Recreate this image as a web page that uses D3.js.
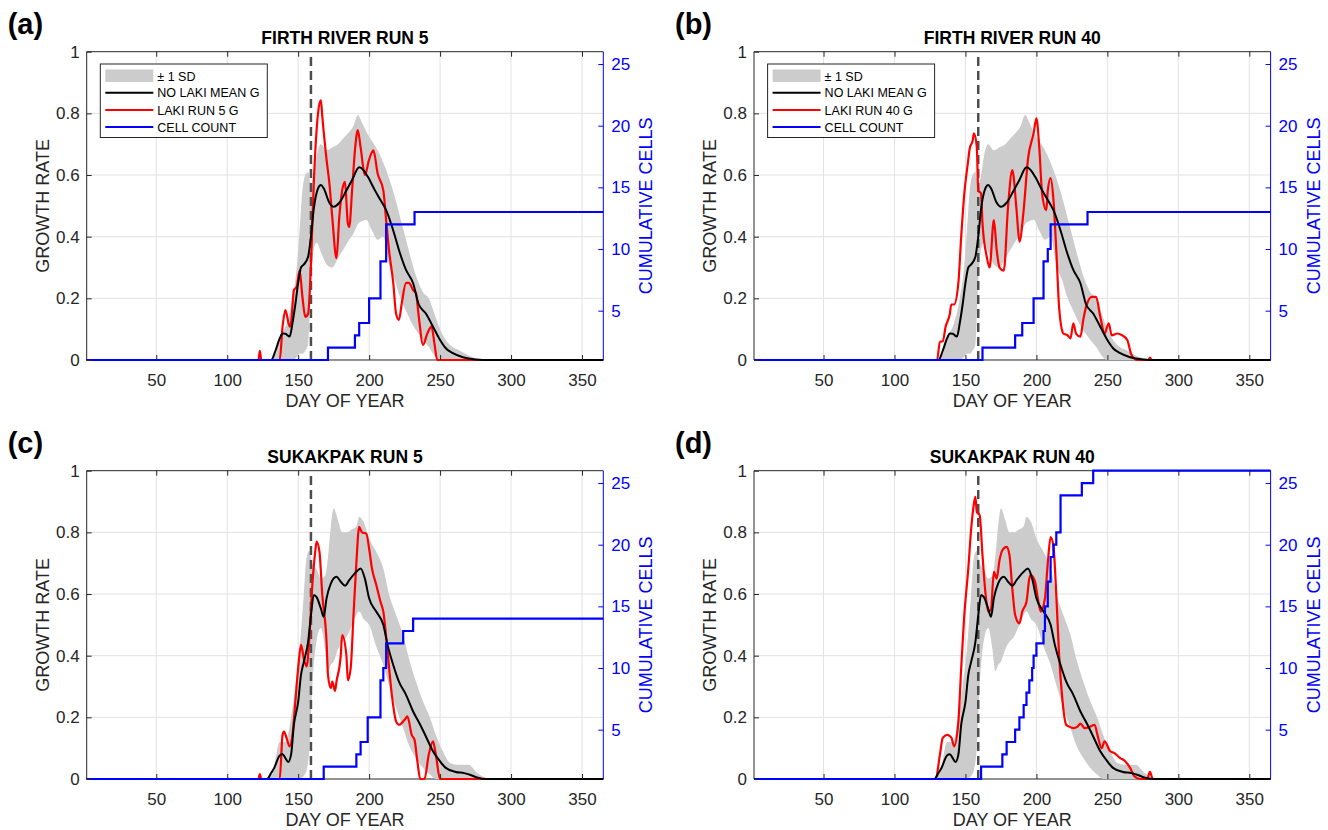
<!DOCTYPE html>
<html>
<head>
<meta charset="utf-8">
<script src="https://cdn.jsdelivr.net/npm/d3@7"></script>
<style>
    body { margin: 0; background: #fff; }
    svg text { font-family: "Liberation Sans", Arial, Helvetica, sans-serif; }
</style>
</head>
<body>
<svg id="fig" width="1328" height="830"></svg>
<script>
// Axes limits and ticks
const xDomain = [1, 365];
const gDomain = [0, 1];
const cellDomain = [1, 26];
const xTicks = [50, 100, 150, 200, 250, 300, 350];
const gTicks = [0, 0.2, 0.4, 0.6, 0.8, 1];
const cellTicks = [5, 10, 15, 20, 25];
const eruptionDay = 159;

// Firth River - no Laki ensemble mean growth rate
const firthMeanDay = [1, 124, 131, 134, 137, 139, 141, 144, 146, 148, 150, 152, 154, 157, 159, 161, 164, 166, 168, 172, 175, 179, 184, 188, 193, 196, 199, 204, 208, 212, 217, 221, 226, 231, 235, 240, 245, 250, 254, 259, 266, 275, 285, 365];
const firthMeanG = [0, 0, 0, 0.03, 0.07, 0.086, 0.085, 0.076, 0.12, 0.18, 0.25, 0.30, 0.31, 0.335, 0.40, 0.49, 0.557, 0.568, 0.557, 0.51, 0.497, 0.51, 0.55, 0.584, 0.625, 0.616, 0.595, 0.551, 0.519, 0.486, 0.42, 0.357, 0.292, 0.249, 0.18, 0.151, 0.108, 0.065, 0.038, 0.022, 0.009, 0.002, 0, 0];

// Firth River - +/- 1 SD envelope
const firthBandDay = [131, 134, 138, 142, 146, 149, 151, 153, 155, 157, 159, 161, 163, 166, 170, 174, 178, 182, 186, 189, 192, 195, 198, 202, 206, 210, 214, 218, 222, 226, 230, 234, 238, 242, 246, 250, 254, 258, 262, 266, 270, 276, 282];
const firthBandHi = [0, 0.02, 0.08, 0.12, 0.2, 0.3, 0.42, 0.55, 0.6, 0.61, 0.57, 0.6, 0.66, 0.7, 0.68, 0.69, 0.70, 0.72, 0.74, 0.76, 0.795, 0.77, 0.74, 0.71, 0.68, 0.64, 0.59, 0.53, 0.46, 0.39, 0.32, 0.26, 0.22, 0.2, 0.15, 0.1, 0.065, 0.045, 0.035, 0.025, 0.015, 0.005, 0];
const firthBandLo = [0, 0, 0, 0, 0, 0.01, 0.02, 0.02, 0.03, 0.05, 0.25, 0.36, 0.38, 0.35, 0.31, 0.30, 0.33, 0.36, 0.39, 0.41, 0.44, 0.45, 0.455, 0.42, 0.39, 0.40, 0.31, 0.26, 0.2, 0.16, 0.12, 0.09, 0.065, 0.043, 0.015, 0, 0, 0, 0, 0, 0, 0, 0];

// Firth River - Laki run 5
const firthRun5Day = [1, 122, 123, 124, 137, 139, 141, 144, 145, 147, 149, 151, 153, 155, 157, 159, 161, 164, 166, 167, 170, 172, 174, 177, 179, 181, 183, 185, 186, 188, 190, 192, 194, 197, 200, 203, 206, 210, 212, 214, 217, 219, 221, 223, 226, 228, 231, 233, 235, 238, 241, 244, 246, 248, 365];
const firthRun5G = [0, 0, 0.03, 0, 0, 0.108, 0.162, 0.108, 0.12, 0.227, 0.238, 0.29, 0.205, 0.14, 0.15, 0.31, 0.573, 0.8, 0.843, 0.79, 0.65, 0.573, 0.465, 0.33, 0.465, 0.55, 0.578, 0.443, 0.432, 0.55, 0.68, 0.746, 0.69, 0.6, 0.65, 0.68, 0.605, 0.55, 0.454, 0.357, 0.25, 0.15, 0.13, 0.184, 0.25, 0.25, 0.227, 0.216, 0.14, 0.049, 0.086, 0.108, 0.054, 0, 0];

// Firth River - Laki run 40
const firthRun40Day = [1, 130, 132, 134, 136, 139, 140, 142, 145, 147, 149, 152, 153, 155, 156, 158, 159, 161, 162, 165, 167, 170, 172, 174, 177, 180, 183, 186, 188, 191, 194, 198, 200, 202, 204, 207, 208, 210, 212, 214, 216, 219, 222, 224, 226, 228, 231, 233, 235, 239, 242, 245, 248, 251, 253, 257, 260, 264, 267, 271, 279, 280, 281, 365];
const firthRun40G = [0, 0, 0.06, 0.06, 0.108, 0.15, 0.18, 0.18, 0.25, 0.40, 0.53, 0.65, 0.686, 0.71, 0.735, 0.69, 0.55, 0.54, 0.443, 0.335, 0.30, 0.454, 0.357, 0.30, 0.29, 0.497, 0.616, 0.486, 0.384, 0.486, 0.65, 0.735, 0.784, 0.69, 0.54, 0.486, 0.55, 0.59, 0.52, 0.357, 0.17, 0.086, 0.08, 0.07, 0.119, 0.085, 0.076, 0.13, 0.173, 0.205, 0.205, 0.14, 0.086, 0.119, 0.08, 0.086, 0.081, 0.065, 0.016, 0, 0, 0.008, 0, 0];

// Sukakpak - no Laki ensemble mean growth rate
const sukMeanDay = [1, 128, 131, 133, 137, 139, 141, 143, 145, 147, 150, 152, 154, 157, 159, 161, 163, 166, 168, 170, 173, 177, 180, 183, 186, 191, 194, 197, 200, 205, 210, 213, 217, 221, 226, 231, 236, 240, 245, 250, 254, 261, 267, 271, 276, 283, 365];
const sukMeanG = [0, 0, 0.02, 0.035, 0.076, 0.08, 0.068, 0.055, 0.079, 0.176, 0.25, 0.338, 0.38, 0.445, 0.53, 0.597, 0.59, 0.553, 0.526, 0.586, 0.634, 0.656, 0.64, 0.627, 0.645, 0.672, 0.683, 0.65, 0.586, 0.543, 0.5, 0.435, 0.37, 0.316, 0.273, 0.219, 0.176, 0.138, 0.09, 0.057, 0.036, 0.023, 0.019, 0.014, 0.005, 0, 0];

// Sukakpak - +/- 1 SD envelope
const sukBandDay = [129, 133, 137, 141, 145, 148, 151, 154, 156, 158, 160, 163, 166, 169, 171, 173, 175, 178, 181, 184, 188, 191, 193, 196, 200, 205, 210, 214, 219, 224, 228, 233, 238, 243, 247, 252, 257, 263, 270, 276, 283];
const sukBandHi = [0, 0.04, 0.12, 0.12, 0.2, 0.3, 0.42, 0.6, 0.72, 0.74, 0.7, 0.68, 0.65, 0.66, 0.72, 0.82, 0.877, 0.84, 0.8, 0.8, 0.81, 0.82, 0.85, 0.835, 0.78, 0.737, 0.683, 0.6, 0.532, 0.467, 0.392, 0.316, 0.251, 0.197, 0.143, 0.09, 0.052, 0.046, 0.046, 0.02, 0];
const sukBandLo = [0, 0, 0, 0, 0, 0, 0, 0.01, 0.03, 0.1, 0.3, 0.45, 0.49, 0.42, 0.35, 0.37, 0.38, 0.42, 0.445, 0.46, 0.5, 0.532, 0.543, 0.52, 0.5, 0.43, 0.37, 0.305, 0.23, 0.165, 0.11, 0.068, 0.036, 0.014, 0, 0, 0, 0, 0, 0, 0];

// Sukakpak - Laki run 5
const sukRun5Day = [1, 122, 123, 124, 137, 139, 140, 142, 144, 146, 148, 150, 152, 154, 156, 158, 160, 162, 163, 165, 167, 170, 171, 173, 174, 176, 177, 180, 181, 184, 185, 187, 189, 191, 193, 195, 198, 200, 202, 205, 208, 210, 213, 216, 219, 221, 225, 227, 230, 232, 234, 236, 239, 242, 245, 247, 250, 365];
const sukRun5G = [0, 0, 0.016, 0, 0, 0.143, 0.154, 0.13, 0.106, 0.143, 0.25, 0.36, 0.435, 0.39, 0.365, 0.467, 0.63, 0.737, 0.77, 0.737, 0.597, 0.445, 0.338, 0.295, 0.316, 0.286, 0.316, 0.40, 0.467, 0.40, 0.32, 0.36, 0.532, 0.70, 0.818, 0.80, 0.796, 0.747, 0.683, 0.63, 0.575, 0.543, 0.413, 0.273, 0.187, 0.176, 0.192, 0.203, 0.143, 0.127, 0.057, 0, 0, 0.079, 0.122, 0.079, 0, 0];

// Sukakpak - Laki run 40
const sukRun40Day = [1, 129, 132, 134, 137, 140, 142, 145, 147, 149, 152, 154, 156, 157, 158, 160, 162, 164, 166, 168, 170, 172, 174, 176, 179, 181, 183, 185, 188, 190, 193, 195, 196, 199, 201, 203, 206, 208, 210, 212, 214, 216, 218, 221, 223, 226, 229, 231, 234, 238, 241, 243, 246, 248, 252, 255, 259, 262, 266, 269, 273, 278, 280, 282, 365];
const sukRun40G = [0, 0, 0.079, 0.133, 0.143, 0.135, 0.106, 0.187, 0.36, 0.52, 0.683, 0.81, 0.894, 0.915, 0.866, 0.856, 0.726, 0.607, 0.543, 0.55, 0.672, 0.65, 0.71, 0.742, 0.753, 0.726, 0.618, 0.532, 0.505, 0.543, 0.575, 0.65, 0.661, 0.64, 0.586, 0.543, 0.586, 0.70, 0.785, 0.755, 0.597, 0.40, 0.273, 0.176, 0.17, 0.165, 0.17, 0.18, 0.165, 0.17, 0.176, 0.143, 0.1, 0.122, 0.09, 0.084, 0.068, 0.06, 0.036, 0.009, 0, 0, 0.023, 0, 0];

// Cumulative cell counts (step changes)
const firthRun5CellDay = [1, 171, 190, 193, 200, 208, 212, 232];
const firthRun5Cells = [1, 2, 3, 4, 6, 9, 12, 13];
const firthRun40CellDay = [1, 162, 185, 190, 198, 205, 208, 210, 236];
const firthRun40Cells = [1, 2, 3, 4, 6, 9, 10, 12, 13];
const sukRun5CellDay = [1, 168, 191, 194, 199, 208, 210, 212, 224, 231];
const sukRun5Cells = [1, 2, 3, 4, 6, 9, 10, 12, 13, 14];
const sukRun40CellDay = [1, 161, 176, 179, 185, 188, 191, 193, 195, 197, 198, 200, 205, 206, 208, 210, 212, 214, 217, 232, 240];
const sukRun40Cells = [1, 2, 3, 4, 5, 6, 7, 8, 9, 10, 11, 12, 13, 15, 17, 19, 20, 21, 24, 25, 26];

const panels = [
    { key: 'a', title: 'FIRTH RIVER RUN 5', runName: 'LAKI RUN 5 G', legend: true,
      meanDay: firthMeanDay, meanG: firthMeanG, bandDay: firthBandDay, bandHi: firthBandHi, bandLo: firthBandLo,
      runDay: firthRun5Day, runG: firthRun5G, cellDay: firthRun5CellDay, cells: firthRun5Cells },
    { key: 'b', title: 'FIRTH RIVER RUN 40', runName: 'LAKI RUN 40 G', legend: true,
      meanDay: firthMeanDay, meanG: firthMeanG, bandDay: firthBandDay, bandHi: firthBandHi, bandLo: firthBandLo,
      runDay: firthRun40Day, runG: firthRun40G, cellDay: firthRun40CellDay, cells: firthRun40Cells },
    { key: 'c', title: 'SUKAKPAK RUN 5', runName: 'LAKI RUN 5 G', legend: false,
      meanDay: sukMeanDay, meanG: sukMeanG, bandDay: sukBandDay, bandHi: sukBandHi, bandLo: sukBandLo,
      runDay: sukRun5Day, runG: sukRun5G, cellDay: sukRun5CellDay, cells: sukRun5Cells },
    { key: 'd', title: 'SUKAKPAK RUN 40', runName: 'LAKI RUN 40 G', legend: false,
      meanDay: sukMeanDay, meanG: sukMeanG, bandDay: sukBandDay, bandHi: sukBandHi, bandLo: sukBandLo,
      runDay: sukRun40Day, runG: sukRun40G, cellDay: sukRun40CellDay, cells: sukRun40Cells }
];

// Layout
const plotW = 516.6;
const plotH = 308.3;
const panelPos = [[86.7, 51.7], [754, 51.7], [86.7, 470.7], [754, 470.7]];
const axisColor = '#262626';
const gridColor = '#e3e3e3';
const bandColor = '#cccccc';
const runColor = '#ff0000';
const cellColor = '#0000ff';

const svg = d3.select('#fig');

function zip(xs, ys) {
    return xs.map((d, i) => [d, ys[i]]);
}

panels.forEach((p, i) => drawPanel(p, panelPos[i]));

function drawPanel(p, pos) {
    const g = svg.append('g').attr('transform', `translate(${pos[0]},${pos[1]})`);

    const x = d3.scaleLinear().domain(xDomain).range([0, plotW]);
    const y = d3.scaleLinear().domain(gDomain).range([plotH, 0]);
    const yR = d3.scaleLinear().domain(cellDomain).range([plotH, 0]);

    // grid
    g.append('g').selectAll('line').data(xTicks).join('line')
        .attr('x1', d => x(d)).attr('x2', d => x(d))
        .attr('y1', 0).attr('y2', plotH)
        .attr('stroke', gridColor);
    g.append('g').selectAll('line').data(gTicks.slice(1, -1)).join('line')
        .attr('x1', 0).attr('x2', plotW)
        .attr('y1', d => y(d)).attr('y2', d => y(d))
        .attr('stroke', gridColor);

    // box (right side belongs to the cell axis)
    g.append('path')
        .attr('d', `M${plotW},0H0V${plotH}H${plotW}`)
        .attr('fill', 'none').attr('stroke', axisColor).attr('stroke-width', 1);
    g.append('line')
        .attr('x1', plotW).attr('x2', plotW).attr('y1', 0).attr('y2', plotH)
        .attr('stroke', cellColor).attr('stroke-width', 1);

    const clipId = 'clip-' + p.key;
    g.append('clipPath').attr('id', clipId)
        .append('rect').attr('x', -3).attr('y', -3)
        .attr('width', plotW + 6).attr('height', plotH + 6);
    const plot = g.append('g').attr('clip-path', `url(#${clipId})`);

    // +/- 1 SD band
    const band = p.bandDay.map((d, k) => [d, p.bandLo[k], p.bandHi[k]]);
    plot.append('path').datum(band)
        .attr('d', d3.area()
            .x(d => x(d[0])).y0(d => y(d[1])).y1(d => y(d[2]))
            .curve(d3.curveMonotoneX))
        .attr('fill', bandColor);

    // eruption onset
    plot.append('line')
        .attr('x1', x(eruptionDay)).attr('x2', x(eruptionDay))
        .attr('y1', y(gDomain[0])).attr('y2', y(gDomain[1]))
        .attr('stroke', '#4d4d4d').attr('stroke-width', 2.5)
        .attr('stroke-dasharray', '9,5');

    const gLine = d3.line().x(d => x(d[0])).y(d => y(d[1])).curve(d3.curveMonotoneX);

    plot.append('path').datum(zip(p.runDay, p.runG))
        .attr('d', gLine).attr('fill', 'none')
        .attr('stroke', runColor).attr('stroke-width', 2.2);

    plot.append('path').datum(zip(p.meanDay, p.meanG))
        .attr('d', gLine).attr('fill', 'none')
        .attr('stroke', '#000').attr('stroke-width', 2);

    // cumulative cells, stepped
    const cellData = zip(p.cellDay, p.cells);
    cellData.push([xDomain[1], p.cells[p.cells.length - 1]]);
    plot.append('path').datum(cellData)
        .attr('d', d3.line().x(d => x(d[0])).y(d => yR(d[1])).curve(d3.curveStepAfter))
        .attr('fill', 'none').attr('stroke', cellColor).attr('stroke-width', 2.2);

    // axes, MATLAB-style inward ticks
    const xAxis = g.append('g').attr('transform', `translate(0,${plotH})`)
        .call(d3.axisBottom(x).tickValues(xTicks).tickSizeInner(-5).tickSizeOuter(0).tickPadding(14));
    const xTop = g.append('g')
        .call(d3.axisTop(x).tickValues(xTicks).tickSizeInner(-5).tickSizeOuter(0).tickFormat(''));
    const yAxis = g.append('g')
        .call(d3.axisLeft(y).tickValues(gTicks).tickSizeInner(-5).tickSizeOuter(0).tickPadding(7)
            .tickFormat(d => d3.format('~g')(d)));
    const yRight = g.append('g').attr('transform', `translate(${plotW},0)`)
        .call(d3.axisRight(yR).tickValues(cellTicks).tickSizeInner(-5).tickSizeOuter(0).tickPadding(8));

    [xAxis, xTop, yAxis].forEach(a => {
        a.select('.domain').remove();
        a.selectAll('line').attr('stroke', axisColor);
        a.selectAll('text').attr('fill', axisColor).style('font-size', '17px');
    });
    yRight.select('.domain').remove();
    yRight.selectAll('line').attr('stroke', cellColor);
    yRight.selectAll('text').attr('fill', cellColor).style('font-size', '17px');

    // labels
    g.append('text')
        .attr('x', plotW / 2).attr('y', plotH + 47)
        .attr('text-anchor', 'middle').attr('fill', axisColor)
        .style('font-size', '18px')
        .text('DAY OF YEAR');
    g.append('text')
        .attr('transform', `translate(-38,${plotH / 2}) rotate(-90)`)
        .attr('text-anchor', 'middle').attr('fill', axisColor)
        .style('font-size', '18px')
        .text('GROWTH RATE');
    g.append('text')
        .attr('transform', `translate(${plotW + 49},${plotH / 2}) rotate(-90)`)
        .attr('text-anchor', 'middle').attr('fill', cellColor)
        .style('font-size', '18px')
        .text('CUMULATIVE CELLS');
    g.append('text')
        .attr('x', plotW / 2).attr('y', -7.5)
        .attr('text-anchor', 'middle').attr('fill', '#000')
        .style('font-size', '17.5px').style('font-weight', 'bold')
        .text(p.title);
    g.append('text')
        .attr('x', -79).attr('y', -18)
        .attr('fill', '#000')
        .style('font-size', '29px').style('font-weight', 'bold')
        .text(`(${p.key})`);

    if (p.legend) drawLegend(g, p.runName);
}

function drawLegend(g, runName) {
    const lg = g.append('g').attr('transform', 'translate(13.6,12.3)');
    lg.append('rect')
        .attr('width', 167).attr('height', 73.5)
        .attr('fill', '#fff').attr('stroke', axisColor).attr('stroke-width', 1);

    const items = [
        { label: '\u00b1 1 SD', type: 'patch', color: bandColor },
        { label: 'NO LAKI MEAN G', type: 'line', color: '#000' },
        { label: runName, type: 'line', color: runColor },
        { label: 'CELL COUNT', type: 'line', color: cellColor }
    ];
    const rowY = [12, 28.7, 46, 63];

    items.forEach((it, k) => {
        if (it.type === 'patch') {
            lg.append('rect')
                .attr('x', 5).attr('y', rowY[k] - 6.5)
                .attr('width', 48).attr('height', 12.5)
                .attr('fill', it.color);
        } else {
            lg.append('line')
                .attr('x1', 5).attr('x2', 53)
                .attr('y1', rowY[k]).attr('y2', rowY[k])
                .attr('stroke', it.color).attr('stroke-width', 2);
        }
        lg.append('text')
            .attr('x', 57).attr('y', rowY[k]).attr('dy', '0.36em')
            .attr('fill', '#000').style('font-size', '12.5px')
            .text(it.label);
    });
}
</script>
</body>
</html>
